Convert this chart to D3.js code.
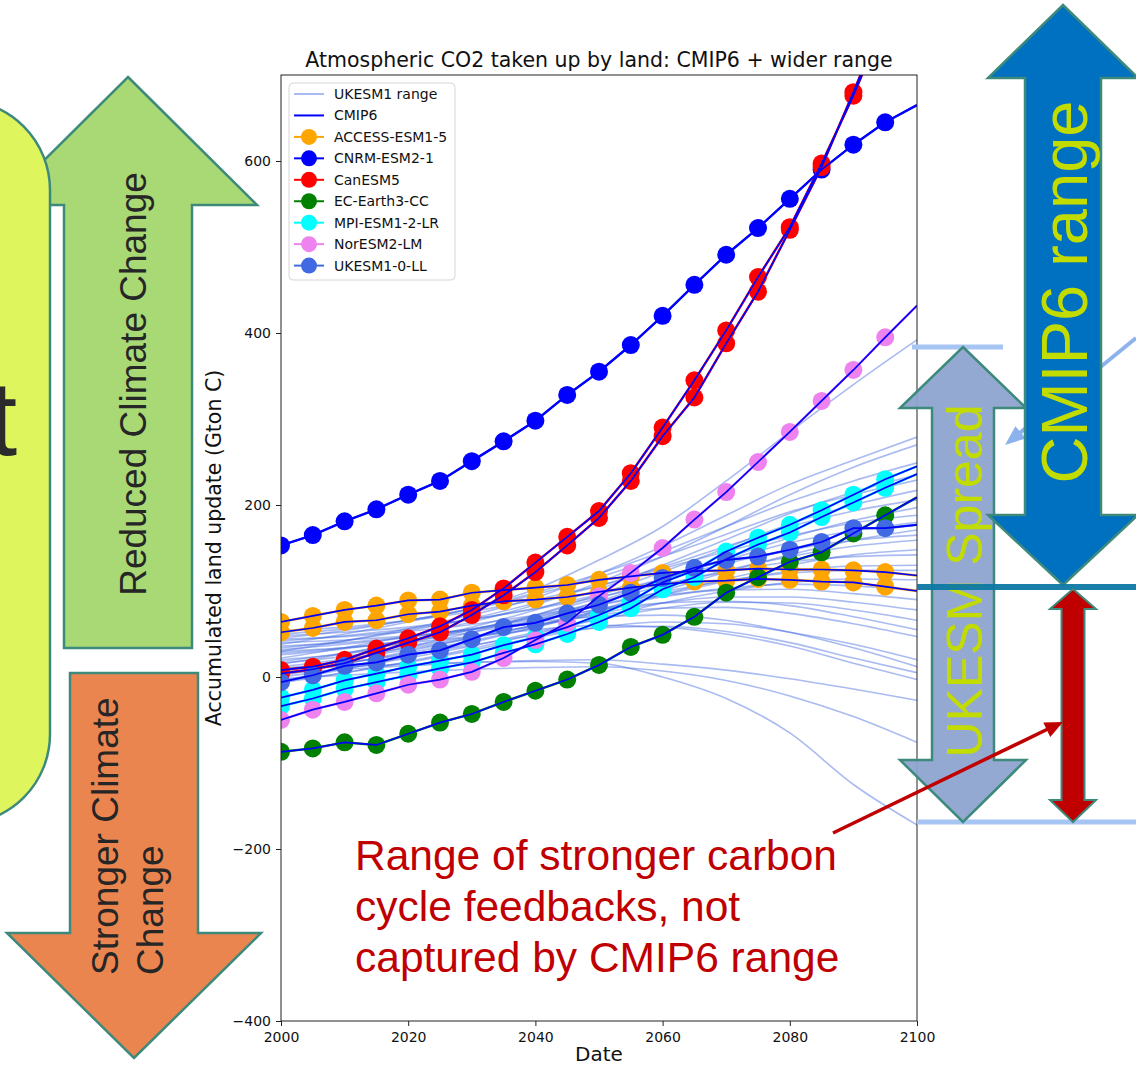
<!DOCTYPE html>
<html><head><meta charset="utf-8">
<script src="https://cdn.jsdelivr.net/npm/d3@7"></script>
<style>body{margin:0;background:#fff}svg{display:block}</style>
</head><body>
<svg id="c" width="1136" height="1067"></svg>
<script>
// ---------------- DATA ----------------
const years = [2000,2005,2010,2015,2020,2025,2030,2035,2040,2045,2050,2055,2060,2065,2070,2075,2080,2085,2090,2095,2100];
const decades = [2000,2010,2020,2030,2040,2050,2060,2070,2080,2090,2100];

const accessA = [64,71,78,83,89,90,98,101,104,107,113,117,121,123,124,126,125,125,124,122,118];
const accessB = [52,57,64,66,73,76,83,88,90,93,99,104,108,111,112,114,113,111,110,105,100];
const cnrm    = [153,165,181,195,212,228,251,274,298,328,355,386,420,456,491,522,556,590,619,645,665];
const canA    = [8,12,20,33,45,59,78,103,133,163,193,237,290,345,403,465,523,597,676,765,850];
const canB    = [4,9,16,28,40,52,72,95,122,153,185,228,280,325,388,448,520,593,680,770,860];
const ecEarth = [-87,-83,-76,-79,-66,-53,-43,-29,-16,-3,14,35,49,70,98,116,134,145,167,188,209];
const mpiA    = [-24,-15,-4,4,12,19,26,37,46,58,72,88,110,124,146,162,177,194,212,230,245];
const mpiB    = [-34,-25,-14,-6,2,10,17,28,38,50,64,80,102,116,137,154,168,186,203,220,236];
const norEsm  = [-50,-38,-29,-19,-9,-3,6,22,43,63,94,121,150,183,215,250,285,321,357,395,432];
const ukesm   = [-6,2,13,17,26,31,44,58,63,74,84,98,115,127,136,140,148,157,173,173,177];

// UKESM1 perturbed range (values at each decade)
const ukesmRange = [
  [38,50,64,80,102,136,175,228,285,340,392],
  [30,42,56,72,92,120,152,188,224,252,279],
  [22,34,48,64,84,110,140,175,212,244,270],
  [45,54,66,80,98,120,146,175,204,228,249],
  [15,27,42,58,78,102,130,160,190,215,235],
  [50,56,66,79,96,116,140,166,192,212,229],
  [8,20,35,52,72,96,122,150,178,200,217],
  [34,42,54,68,86,106,128,152,175,193,206],
  [2,15,30,46,66,88,112,138,162,182,197],
  [54,58,66,76,90,106,126,146,164,179,188],
  [18,28,40,55,72,92,114,136,156,170,180],
  [-4,9,24,40,58,78,100,122,142,159,171],
  [42,48,56,67,80,96,114,132,148,159,165],
  [26,33,43,55,70,87,106,124,140,152,159],
  [6,16,28,42,58,76,96,114,130,142,148],
  [48,52,58,67,79,93,108,122,134,140,142],
  [12,21,32,45,60,77,95,111,123,129,130],
  [32,38,46,56,69,84,99,112,121,124,124],
  [-7,5,18,33,50,68,86,100,110,114,113],
  [28,34,42,52,65,79,93,103,108,106,101],
  [44,47,53,61,72,84,95,101,102,97,90],
  [16,24,34,46,60,74,86,93,93,87,78],
  [0,10,22,36,52,67,80,87,86,78,66],
  [36,40,47,56,67,78,86,88,83,70,55],
  [20,27,36,47,60,72,80,81,74,62,47],
  [-5,5,17,31,46,58,64,62,52,38,20],
  [40,43,48,55,64,70,72,66,52,34,12],
  [10,17,26,37,49,57,59,53,40,22,5],
  [30,34,40,47,55,60,58,50,36,16,-3],
  [4,9,13,17,19,20,15,8,-2,-14,-27],
  [-2,2,6,9,11,12,7,-4,-22,-46,-76],
  [10,12,15,17,18,16,0,-25,-65,-125,-172]
];

const modelNames  = ["ACCESS-ESM1-5","CNRM-ESM2-1","CanESM5","EC-Earth3-CC","MPI-ESM1-2-LR","NorESM2-LM","UKESM1-0-LL"];
const modelColors = ["orange","#0000ff","#ff0000","green","cyan","violet","royalblue"];
const modelMembers = [[accessA,accessB],[cnrm],[canA,canB],[ecEarth],[mpiA,mpiB],[norEsm],[ukesm]];

const xTicks = [2000,2020,2040,2060,2080,2100];
const yTicks = [-400,-200,0,200,400,600];
const titleText = "Atmospheric CO2 taken up by land: CMIP6 + wider range";
const xLabel = "Date";
const yLabel = "Accumulated land update (Gton C)";
const redNote = ["Range of stronger carbon","cycle feedbacks, not","captured by CMIP6 range"];

// ---------------- DRAW ----------------
const svg = d3.select("#c");
const SANS = "'Liberation Sans', Arial, sans-serif";
const DJ = "'DejaVu Sans', sans-serif";
const TEAL = "#3d8a7c";

function upArrow(cx, tip, base, bottom, hh, sh){
  return [[cx,tip],[cx+hh,base],[cx+sh,base],[cx+sh,bottom],[cx-sh,bottom],[cx-sh,base],[cx-hh,base]];
}
function downArrow(cx, top, base, tip, hh, sh){
  return [[cx-sh,top],[cx+sh,top],[cx+sh,base],[cx+hh,base],[cx,tip],[cx-hh,base],[cx-sh,base]];
}
function dblArrow(cx, t1, b1, b2, t2, hh, sh){
  return [[cx,t1],[cx+hh,b1],[cx+sh,b1],[cx+sh,b2],[cx+hh,b2],[cx,t2],[cx-hh,b2],[cx-sh,b2],[cx-sh,b1],[cx-hh,b1]];
}
const poly = p => p.map(d=>d.join(",")).join(" ");

// Left decorations
svg.append("polygon").attr("points", poly(upArrow(128,77,205,648,129,64)))
  .attr("fill","#a9d975").attr("stroke",TEAL).attr("stroke-width",2.5);
svg.append("rect").attr("x",-140).attr("y",100).attr("width",190).attr("height",724).attr("rx",90).attr("ry",90)
  .attr("fill","#dff55e").attr("stroke",TEAL).attr("stroke-width",2.5);
svg.append("text").attr("x",-12).attr("y",455).attr("font-family",SANS).attr("font-size",105)
  .attr("fill","#2b2b2b").text("t");
svg.append("polygon").attr("points", poly(downArrow(134,673,933,1058,127,64)))
  .attr("fill","#eb8550").attr("stroke",TEAL).attr("stroke-width",2.5);
svg.append("text").attr("transform","translate(146,384) rotate(-90)").attr("text-anchor","middle")
  .attr("font-family",SANS).attr("font-size",37).attr("fill","#262626").text("Reduced Climate Change");
svg.append("text").attr("transform","translate(118,975) rotate(-90)")
  .attr("font-family",SANS).attr("font-size",37).attr("fill","#262626").text("Stronger Climate");
svg.append("text").attr("transform","translate(163,975) rotate(-90)")
  .attr("font-family",SANS).attr("font-size",37).attr("fill","#262626").text("Change");

// Chart
const L=281, R=917, T=75, B=1021;
const x = d3.scaleLinear().domain([2000,2100]).range([L,R]);
const y = d3.scaleLinear().domain([-400,700]).range([B,T]);

svg.append("defs").append("clipPath").attr("id","pc").append("rect")
  .attr("x",L).attr("y",T).attr("width",R-L).attr("height",B-T);
const g = svg.append("g").attr("clip-path","url(#pc)");

const lineDec = d3.line().x((d,i)=>x(decades[i])).y(d=>y(d)).curve(d3.curveMonotoneX);
const line5 = d3.line().x((d,i)=>x(years[i])).y(d=>y(d));

g.selectAll("path.rng").data(ukesmRange).join("path").attr("class","rng")
  .attr("d",lineDec).attr("fill","none").attr("stroke","royalblue").attr("stroke-opacity",0.45).attr("stroke-width",1.6);

modelMembers.forEach((members, mi)=>{
  members.forEach(m=>{
    g.append("path").attr("d",line5(m)).attr("fill","none").attr("stroke",modelColors[mi]).attr("stroke-width",2.4);
    g.selectAll(null).data(m.slice(0,20)).join("circle")
      .attr("cx",(d,i)=>x(years[i])).attr("cy",d=>y(d)).attr("r",9).attr("fill",modelColors[mi]);
  });
});
modelMembers.forEach(members=>{
  members.forEach(m=>{
    g.append("path").attr("d",line5(m)).attr("fill","none").attr("stroke","#0000ff").attr("stroke-width",1.7);
  });
});

// Axes
svg.append("rect").attr("x",L).attr("y",T).attr("width",R-L).attr("height",B-T)
  .attr("fill","none").attr("stroke","#222").attr("stroke-width",1);
const xa = svg.append("g").attr("transform",`translate(0,${B})`)
  .call(d3.axisBottom(x).tickValues(xTicks).tickFormat(d3.format("d")).tickSize(5).tickPadding(6));
const ya = svg.append("g").attr("transform",`translate(${L},0)`)
  .call(d3.axisLeft(y).tickValues(yTicks).tickFormat(d=>d<0?"\u2212"+Math.abs(d):d).tickSize(5).tickPadding(5));
[xa,ya].forEach(a=>{
  a.select(".domain").remove();
  a.selectAll("line").attr("stroke","#222");
  a.selectAll("text").attr("font-family",DJ).attr("font-size",14).attr("fill","#111");
});
svg.append("text").attr("x",(L+R)/2).attr("y",67).attr("text-anchor","middle")
  .attr("font-family",DJ).attr("font-size",20.5).attr("fill","#111").text(titleText);
svg.append("text").attr("x",(L+R)/2).attr("y",1061).attr("text-anchor","middle")
  .attr("font-family",DJ).attr("font-size",20).attr("fill","#111").text(xLabel);
svg.append("text").attr("transform",`translate(221,${(T+B)/2}) rotate(-90)`).attr("text-anchor","middle")
  .attr("font-family",DJ).attr("font-size",20.5).attr("fill","#111").text(yLabel);

// Legend
const lg = svg.append("g");
lg.append("rect").attr("x",289).attr("y",83).attr("width",166).attr("height",197).attr("rx",4)
  .attr("fill","#fff").attr("fill-opacity",0.85).attr("stroke","#d6d6d6");
const legendItems = [{name:"UKESM1 range",color:"royalblue",op:0.45,marker:false},
  {name:"CMIP6",color:"#0000ff",op:1,marker:false}]
  .concat(modelNames.map((n,i)=>({name:n,color:modelColors[i],op:1,marker:true})));
legendItems.forEach((it,i)=>{
  const cy = 94 + i*21.45;
  lg.append("line").attr("x1",294).attr("x2",324).attr("y1",cy).attr("y2",cy)
    .attr("stroke",it.color).attr("stroke-opacity",it.op).attr("stroke-width",2);
  if(it.marker) lg.append("circle").attr("cx",309).attr("cy",cy).attr("r",8).attr("fill",it.color);
  lg.append("text").attr("x",334).attr("y",cy+5).attr("font-family",DJ).attr("font-size",14)
    .attr("fill","#111").text(it.name);
});

// Right decorations
const LB = "#a7c5f2";
svg.append("line").attr("x1",1136).attr("y1",338).attr("x2",1016).attr("y2",436)
  .attr("stroke","#8db3ee").attr("stroke-width",4);
(function(){ // light blue arrowhead
  const tx=1005, ty=445, ang=Math.atan2(445-338,1005-1136), len=20, hw=8;
  const bx=tx-len*Math.cos(ang), by=ty-len*Math.sin(ang);
  const px=-Math.sin(ang)*hw, py=Math.cos(ang)*hw;
  svg.append("polygon").attr("points",poly([[tx,ty],[bx+px,by+py],[bx-px,by-py]])).attr("fill","#8db3ee");
})();
svg.append("line").attr("x1",912).attr("x2",1003).attr("y1",347).attr("y2",347).attr("stroke",LB).attr("stroke-width",5);
svg.append("line").attr("x1",917).attr("x2",1136).attr("y1",822).attr("y2",822).attr("stroke",LB).attr("stroke-width",5);

svg.append("polygon").attr("points", poly(dblArrow(963,347,408,760,822,63,31)))
  .attr("fill","#8ea4cf").attr("fill-opacity",0.95).attr("stroke",TEAL).attr("stroke-width",2.5);
svg.append("text").attr("transform","translate(982,581) rotate(-90)").attr("text-anchor","middle")
  .attr("font-family",SANS).attr("font-size",50).attr("fill","#c3dc00").text("UKESM Spread");

svg.append("polygon").attr("points", poly(dblArrow(1063,5,78,515,585,75,38)))
  .attr("fill","#0070c0").attr("stroke",TEAL).attr("stroke-width",2.5);
svg.append("text").attr("transform","translate(1087,292) rotate(-90)").attr("text-anchor","middle")
  .attr("font-family",SANS).attr("font-size",65).attr("fill","#c3dc00").text("CMIP6 range");

svg.append("line").attr("x1",917).attr("x2",1136).attr("y1",587).attr("y2",587)
  .attr("stroke","#0d78a4").attr("stroke-opacity",0.95).attr("stroke-width",6);

svg.append("polygon").attr("points", poly(dblArrow(1073,589,609,800,822,23,11.5)))
  .attr("fill","#c00000").attr("stroke",TEAL).attr("stroke-width",2);

// red pointer
svg.append("line").attr("x1",833).attr("y1",833).attr("x2",1050).attr("y2",728)
  .attr("stroke","#c00000").attr("stroke-width",3.5);
(function(){
  const tx=1063, ty=722, ang=Math.atan2(722-833,1063-833), len=18, hw=8;
  const bx=tx-len*Math.cos(ang), by=ty-len*Math.sin(ang);
  const px=-Math.sin(ang)*hw, py=Math.cos(ang)*hw;
  svg.append("polygon").attr("points",poly([[tx,ty],[bx+px,by+py],[bx-px,by-py]])).attr("fill","#c00000");
})();

redNote.forEach((t,i)=>{
  svg.append("text").attr("x",355).attr("y",870+i*51).attr("font-family",SANS).attr("font-size",42.5)
    .attr("fill","#c00000").text(t);
});
</script>
</body></html>
